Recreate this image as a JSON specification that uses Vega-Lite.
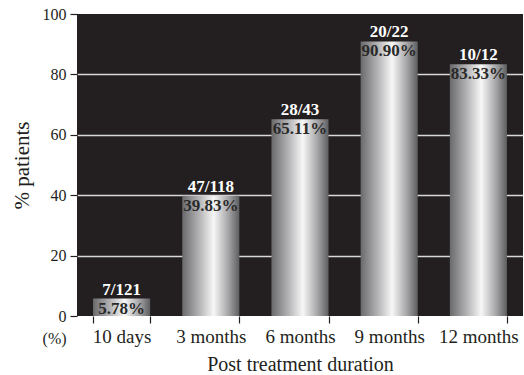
{
  "$schema": "https://vega.github.io/schema/vega-lite/v6.json",
  "width": 446,
  "height": 302,
  "autosize": "none",
  "padding": {"left": 77, "top": 14, "right": 1, "bottom": 59},
  "background": "white",
  "config": {
    "view": {"fill": "#231f20", "stroke": null},
    "font": "Liberation Serif"
  },
  "data": {
    "values": [
      {"duration": "10 days", "pct": 5.78, "frac": "7/121", "label": "5.78%"},
      {"duration": "3 months", "pct": 39.83, "frac": "47/118", "label": "39.83%"},
      {"duration": "6 months", "pct": 65.11, "frac": "28/43", "label": "65.11%"},
      {"duration": "9 months", "pct": 90.9, "frac": "20/22", "label": "90.90%"},
      {"duration": "12 months", "pct": 83.33, "frac": "10/12", "label": "83.33%"}
    ]
  },
  "encoding": {
    "x": {
      "field": "duration",
      "type": "nominal",
      "sort": null,
      "scale": {"paddingInner": 0.36, "paddingOuter": 0.18},
      "axis": {
        "title": "Post treatment duration",
        "titleFont": "Liberation Serif",
        "titleFontSize": 20,
        "titleFontWeight": "normal",
        "titleColor": "#231f20",
        "titlePadding": 8,
        "labelFont": "Liberation Serif",
        "labelFontSize": 19,
        "labelColor": "#231f20",
        "labelAngle": 0,
        "labelPadding": 4,
        "tickBand": "extent",
        "tickSize": 7,
        "tickColor": "#231f20",
        "tickWidth": 1.2,
        "domain": false,
        "grid": false
      }
    },
    "y": {
      "field": "pct",
      "type": "quantitative",
      "scale": {"domain": [0, 100], "nice": false},
      "axis": {
        "title": "% patients",
        "titleFont": "Liberation Serif",
        "titleFontSize": 21,
        "titleFontWeight": "normal",
        "titleColor": "#231f20",
        "titlePadding": 10,
        "labelFont": "Liberation Serif",
        "labelFontSize": 16,
        "labelColor": "#231f20",
        "labelPadding": 4,
        "values": [0, 20, 40, 60, 80, 100],
        "tickSize": 7,
        "tickColor": "#231f20",
        "tickWidth": 1.2,
        "domain": false,
        "grid": true,
        "gridColor": {"condition": {"test": "datum.value == 0 || datum.value == 100", "value": "transparent"}, "value": "#d8d8d8"},
        "gridWidth": 1.5
      }
    }
  },
  "layer": [
    {
      "mark": {
        "type": "bar",
        "color": {
          "gradient": "linear",
          "x1": 0, "x2": 1, "y1": 0, "y2": 0,
          "stops": [
            {"offset": 0, "color": "#6a6a6c"},
            {"offset": 0.3, "color": "#b4b4b6"},
            {"offset": 0.55, "color": "#f7f7f7"},
            {"offset": 0.8, "color": "#a8a8aa"},
            {"offset": 1, "color": "#5e5e60"}
          ]
        }
      }
    },
    {
      "mark": {"type": "text", "baseline": "alphabetic", "dy": -4, "fontSize": 17, "fontWeight": "bold", "color": "white", "font": "Liberation Serif"},
      "encoding": {"text": {"field": "frac"}}
    },
    {
      "mark": {"type": "text", "baseline": "top", "dy": 2, "fontSize": 17, "fontWeight": "bold", "color": "#2a2a2a", "font": "Liberation Serif"},
      "encoding": {"text": {"field": "label"}}
    },
    {
      "data": {"values": [{"duration": "10 days", "pct": 0, "t": "(%)"}]},
      "mark": {"type": "text", "baseline": "middle", "align": "center", "dx": -67, "dy": 23, "fontSize": 16, "color": "#231f20", "font": "Liberation Serif"},
      "encoding": {
        "text": {"field": "t"}
      }
    }
  ]
}
